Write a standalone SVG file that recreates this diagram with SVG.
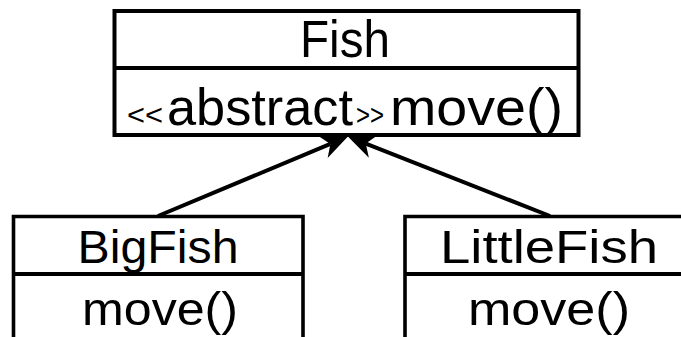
<svg xmlns="http://www.w3.org/2000/svg" width="681" height="337" viewBox="0 0 681 337">
  <style>
    .box { fill: #ffffff; stroke: #000000; stroke-width: 4; }
    .open { fill: none; stroke: #000000; stroke-width: 3.6; }
    .div { stroke: #000000; stroke-width: 4; }
    .lbl { font-family: "Liberation Sans", Arial, sans-serif; fill: #000000; text-anchor: middle; }
    .edge { stroke: #000000; stroke-width: 4; fill: none; }
  </style>
  <defs>
    <marker id="arrow" markerUnits="userSpaceOnUse" markerWidth="34" markerHeight="30"
            viewBox="-10 -15 34 30" refX="0" refY="0" orient="auto">
      <path d="M19,0 L-8,-12 L0,0 L-8,12 Z" fill="#000000"/>
    </marker>
  </defs>

  <rect width="681" height="337" fill="#ffffff"/>

  <!-- superclass -->
  <g id="fish">
    <rect class="box" x="114.5" y="11" width="464" height="124"/>
    <line class="div" x1="114.5" y1="68" x2="578.5" y2="68"/>
    <text class="lbl" x="345" y="57" font-size="52" textLength="90" lengthAdjust="spacingAndGlyphs">Fish</text>
    <text class="lbl" y="125" font-size="52" text-anchor="start" style="text-anchor:start">
      <tspan x="127" font-size="30" textLength="36" lengthAdjust="spacingAndGlyphs">&lt;&lt;</tspan><tspan x="167" textLength="186" lengthAdjust="spacingAndGlyphs">abstract</tspan><tspan x="356" font-size="30" textLength="28" lengthAdjust="spacingAndGlyphs">&gt;&gt;</tspan><tspan x="390" textLength="173" lengthAdjust="spacingAndGlyphs">move()</tspan>
    </text>
  </g>

  <!-- subclasses -->
  <g id="bigfish">
    <path class="open" d="M13.5,345 V216.5 H303 V345"/>
    <line class="div" x1="13.5" y1="274" x2="303" y2="274"/>
    <text class="lbl" x="158" y="263" font-size="46" textLength="161" lengthAdjust="spacingAndGlyphs">BigFish</text>
    <text class="lbl" x="160" y="325" font-size="46" textLength="156" lengthAdjust="spacingAndGlyphs">move()</text>
  </g>

  <g id="littlefish">
    <path class="open" d="M405,345 V216.5 H690"/>
    <line class="div" x1="405" y1="274" x2="690" y2="274"/>
    <text class="lbl" x="549" y="263" font-size="46" textLength="218" lengthAdjust="spacingAndGlyphs">LittleFish</text>
    <text class="lbl" x="549" y="325" font-size="46" textLength="162" lengthAdjust="spacingAndGlyphs">move()</text>
  </g>

  <!-- generalization connectors -->
  <g id="connectors">
    <line class="edge" x1="158" y1="216" x2="330.4" y2="143.9" marker-end="url(#arrow)"/>
    <line class="edge" x1="550" y1="216" x2="365.8" y2="143.6" marker-end="url(#arrow)"/>
  </g>
</svg>
